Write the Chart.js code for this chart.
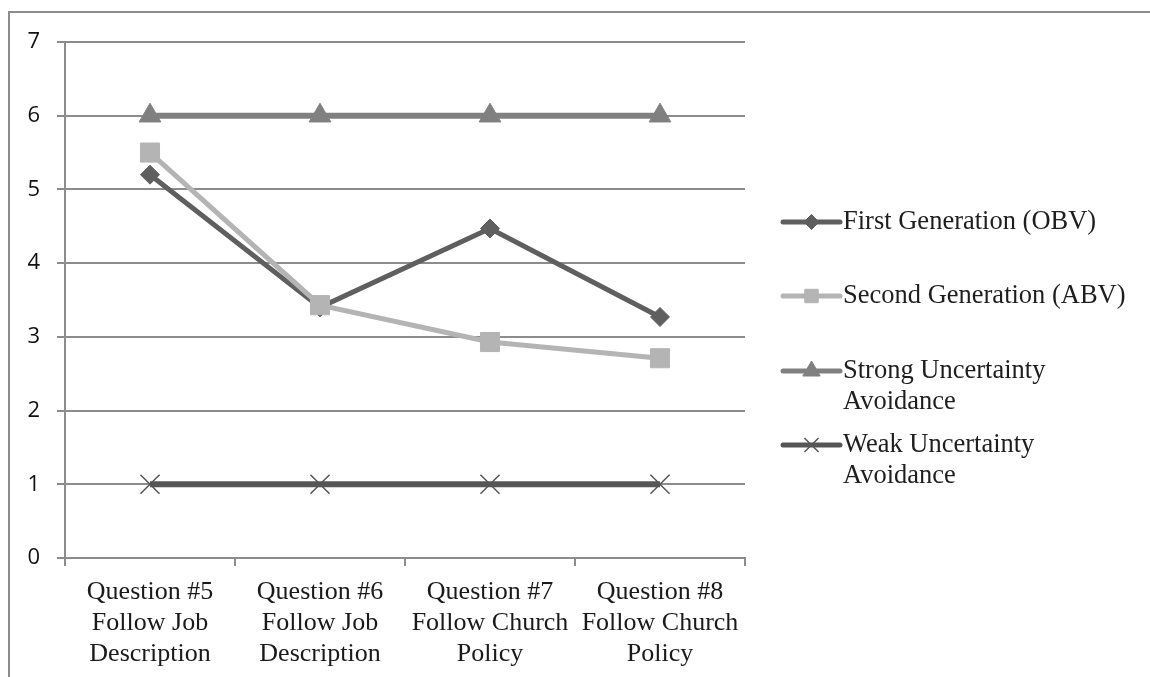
<!DOCTYPE html>
<html>
<head>
<meta charset="utf-8">
<script src="https://cdn.jsdelivr.net/npm/chart.js@4.4.1/dist/chart.umd.min.js"></script>
<style>
  html, body { margin: 0; padding: 0; background: #fff; }
  #wrap { position: relative; width: 1150px; height: 677px; overflow: hidden; }
  #frame { position: absolute; left: 8px; top: 11px; right: -4px; bottom: -4px;
           border-top: 2px solid #8c8c8c; border-left: 2px solid #8c8c8c; }
  canvas { position: absolute; left: 0; top: 0; }
</style>
</head>
<body>
<div id="wrap">
  <div id="frame"></div>
  <canvas id="c" width="1150" height="677"></canvas>
</div>
<script>
// Question categories (multi-line axis labels)
const categories = [
  ['Question #5', 'Follow Job', 'Description'],
  ['Question #6', 'Follow Job', 'Description'],
  ['Question #7', 'Follow Church', 'Policy'],
  ['Question #8', 'Follow Church', 'Policy']
];

// Mean scores per question
const firstGeneration  = [5.2, 3.4, 4.47, 3.27];
const secondGeneration = [5.5, 3.43, 2.93, 2.71];
const strongAvoidance  = [6, 6, 6, 6];
const weakAvoidance    = [1, 1, 1, 1];

// Series names; legend text wraps as given
const seriesNames = [
  ['First Generation (OBV)'],
  ['Second Generation (ABV)'],
  ['Strong Uncertainty', 'Avoidance'],
  ['Weak Uncertainty', 'Avoidance']
];

const yTicks = [0, 1, 2, 3, 4, 5, 6, 7];

const GRID = '#8c8c8c';

// Legend to the right of the plot, with two-line entries
const sideLegend = {
  id: 'sideLegend',
  afterDraw(chart) {
    const ctx = chart.ctx;
    const x0 = 783, x1 = 840, xm = 811.5, tx = 843;
    const rows = [222, 296, 371, 445];
    const lineGap = 31;
    const markerSize = [7.5, 9.5, 10, 10];
    ctx.save();
    chart.data.datasets.forEach((ds, i) => {
      const y = rows[i];
      ctx.strokeStyle = ds.borderColor;
      ctx.lineWidth = 5;
      ctx.lineCap = 'round';
      ctx.beginPath();
      ctx.moveTo(x0, y);
      ctx.lineTo(x1, y);
      ctx.stroke();
      ctx.lineCap = 'butt';
      ctx.fillStyle = ds.pointBackgroundColor;
      ctx.strokeStyle = ds.pointBorderColor;
      ctx.lineWidth = ds.pointBorderWidth;
      Chart.helpers.drawPoint(ctx, {
        pointStyle: ds.pointStyle,
        rotation: 0,
        radius: markerSize[i],
        borderWidth: ds.pointBorderWidth
      }, xm, y);
      ctx.fillStyle = '#1e1e1e';
      ctx.font = '26.5px "Liberation Serif", "Times New Roman", serif';
      ctx.textBaseline = 'middle';
      ctx.textAlign = 'left';
      seriesNames[i].forEach((t, k) => ctx.fillText(t, tx, y + k * lineGap));
    });
    ctx.restore();
  }
};

new Chart(document.getElementById('c'), {
  type: 'line',
  data: {
    labels: categories,
    datasets: [
      {
        label: seriesNames[0].join(' '),
        data: firstGeneration,
        borderColor: '#5f5f5f',
        borderWidth: 5,
        pointStyle: 'rectRot',
        pointRadius: 9.5,
        pointBackgroundColor: '#5f5f5f',
        pointBorderColor: '#5f5f5f',
        pointBorderWidth: 1,
        order: 2
      },
      {
        label: seriesNames[1].join(' '),
        data: secondGeneration,
        borderColor: '#b4b4b4',
        borderWidth: 5,
        pointStyle: 'rect',
        pointRadius: 13.5,
        pointBackgroundColor: '#b4b4b4',
        pointBorderColor: '#b4b4b4',
        pointBorderWidth: 1,
        order: 1
      },
      {
        label: seriesNames[2].join(' '),
        data: strongAvoidance,
        borderColor: '#808080',
        borderWidth: 6,
        pointStyle: 'triangle',
        pointRadius: 12.5,
        pointBackgroundColor: '#808080',
        pointBorderColor: '#808080',
        pointBorderWidth: 1,
        order: 3
      },
      {
        label: seriesNames[3].join(' '),
        data: weakAvoidance,
        borderColor: '#565656',
        borderWidth: 6,
        pointStyle: 'crossRot',
        pointRadius: 13.5,
        pointBackgroundColor: '#565656',
        pointBorderColor: '#565656',
        pointBorderWidth: 1.5,
        order: 4
      }
    ]
  },
  options: {
    responsive: false,
    animation: false,
    events: [],
    layout: { padding: { left: 0, top: 42, right: 405, bottom: 0 } },
    plugins: {
      legend: { display: false },
      tooltip: { enabled: false }
    },
    elements: { line: { tension: 0 } },
    scales: {
      x: {
        offset: true,
        afterFit(scale) { scale.height = 119; },
        grid: {
          offset: true,
          drawOnChartArea: false,
          drawTicks: true,
          tickLength: 8,
          color: GRID,
          lineWidth: 2
        },
        border: { display: true, color: GRID, width: 2 },
        ticks: {
          color: '#1a1a1a',
          padding: 11,
          maxRotation: 0,
          autoSkip: false,
          font: { family: '"Liberation Serif", "Times New Roman", serif', size: 26, lineHeight: 1.19 }
        }
      },
      y: {
        min: 0,
        max: 7,
        afterFit(scale) { scale.width = 65; },
        afterBuildTicks(scale) { scale.ticks = yTicks.map(v => ({ value: v })); },
        grid: {
          color: GRID,
          lineWidth: 2,
          drawTicks: true,
          tickLength: 8
        },
        border: { display: true, color: GRID, width: 2 },
        ticks: {
          color: '#111',
          padding: 17,
          font: { family: '"Open Sans", "Liberation Sans", sans-serif', size: 22 }
        }
      }
    }
  },
  plugins: [sideLegend]
});
</script>
</body>
</html>
